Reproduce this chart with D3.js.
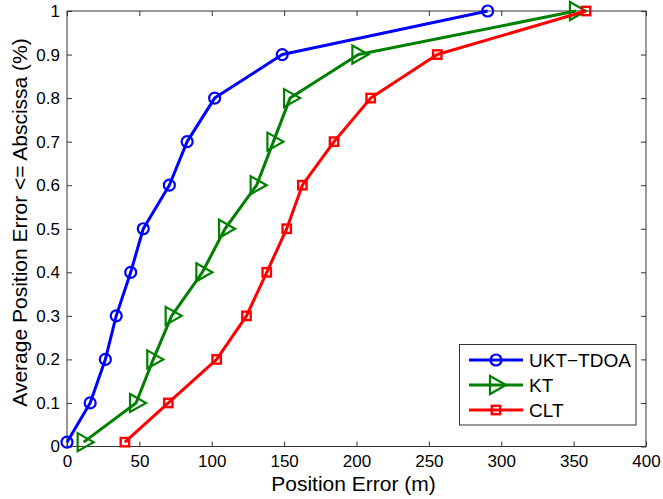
<!DOCTYPE html>
<html><head><meta charset="utf-8">
<script src="https://cdn.jsdelivr.net/npm/d3@7"></script>
<style>body{margin:0;background:#fff}text{font-family:"Liberation Sans",Arial,Helvetica,sans-serif}</style>
</head><body>
<svg id="c" width="663" height="499"></svg>
<script>
const yLevels = [0.01,0.1,0.2,0.3,0.4,0.5,0.6,0.7,0.8,0.9,1.0];
const ukt = [0,16,26.5,34,44,52.7,70.7,83,102,148.7,290.6];
const kt  = [11.5,47.7,59.6,72.3,93.5,109.2,131,142.6,154.1,201.3,351.6];
const clt = [40,70,103.4,124,138,151.8,162.6,184.5,209.8,255.8,358.6];
const xTicks = [0,50,100,150,200,250,300,350,400];
const yTicks = [0,0.1,0.2,0.3,0.4,0.5,0.6,0.7,0.8,0.9,1];
const seriesNames = ["UKT\u2212TDOA","KT","CLT"];
const seriesColors = ["#0000ff","#008000","#ff0000"];
const seriesMarkers = ["circle","triangle","square"];

const svg = d3.select("#c");
const L=67,R=646,T=11,B=446.5;
const x = d3.scaleLinear().domain([0,400]).range([L,R]);
const y = d3.scaleLinear().domain([0,1]).range([B,T]);
const axisColor="#333";

const g = svg.append("g");
g.append("rect").attr("x",L).attr("y",T).attr("width",R-L).attr("height",B-T)
 .attr("fill","none").attr("stroke",axisColor).attr("stroke-width",1);

function styleAxis(sel){
  sel.select(".domain").remove();
  sel.selectAll(".tick line").attr("stroke",axisColor);
  sel.selectAll(".tick text").attr("fill","#000").style("font-size","17px");
}
g.append("g").attr("transform",`translate(0,${B})`)
 .call(d3.axisBottom(x).tickValues(xTicks).tickSizeInner(-5).tickSizeOuter(0).tickPadding(8).tickFormat(d3.format("d")))
 .call(styleAxis);
g.append("g").attr("transform",`translate(0,${T})`)
 .call(d3.axisTop(x).tickValues(xTicks).tickSizeInner(-5).tickSizeOuter(0).tickFormat(""))
 .call(styleAxis);
g.append("g").attr("transform",`translate(${L},0)`)
 .call(d3.axisLeft(y).tickValues(yTicks).tickSizeInner(-5).tickSizeOuter(0).tickPadding(7).tickFormat(d=>d===0?"0":d===1?"1":d3.format(".1f")(d)))
 .call(styleAxis);
g.append("g").attr("transform",`translate(${R},0)`)
 .call(d3.axisRight(y).tickValues(yTicks).tickSizeInner(-5).tickSizeOuter(0).tickFormat(""))
 .call(styleAxis);

svg.append("text").attr("x",353.5).attr("y",491).attr("text-anchor","middle")
 .style("font-size","21px").text("Position Error (m)");
svg.append("text").attr("transform",`translate(27,222.5) rotate(-90)`).attr("text-anchor","middle")
 .style("font-size","21px").text("Average Position Error <= Abscissa (%)");

function drawMarker(sel, type, color){
  if(type==="circle"){
    sel.append("circle").attr("r",5.5).attr("fill","none").attr("stroke",color).attr("stroke-width",2.2);
  } else if(type==="triangle"){
    sel.append("path").attr("d","M-6,-9 L10,0 L-6,9 Z").attr("fill","none").attr("stroke",color).attr("stroke-width",2.2).attr("stroke-linejoin","miter");
  } else {
    sel.append("rect").attr("x",-4.2).attr("y",-4.2).attr("width",8.4).attr("height",8.4).attr("fill","none").attr("stroke",color).attr("stroke-width",2.4);
  }
}

const allSeries=[ukt,kt,clt];
const line = d3.line().x(d=>x(d[0])).y(d=>y(d[1]));
allSeries.forEach((vals,i)=>{
  const pts = vals.map((v,j)=>[v,yLevels[j]]);
  g.append("path").datum(pts).attr("d",line).attr("fill","none")
   .attr("stroke",seriesColors[i]).attr("stroke-width",3).attr("stroke-linejoin","round");
  pts.forEach(p=>{
    const m=g.append("g").attr("transform",`translate(${x(p[0])},${y(p[1])})`);
    drawMarker(m,seriesMarkers[i],seriesColors[i]);
  });
});

const lg = svg.append("g");
lg.append("rect").attr("x",459.5).attr("y",344.5).attr("width",176.5).attr("height",80.5)
  .attr("fill","#fff").attr("stroke",axisColor).attr("stroke-width",1);
seriesNames.forEach((n,i)=>{
  const yy = 360 + i*25;
  lg.append("line").attr("x1",469).attr("x2",523).attr("y1",yy).attr("y2",yy)
    .attr("stroke",seriesColors[i]).attr("stroke-width",3);
  const m = lg.append("g").attr("transform",`translate(496,${yy})`);
  drawMarker(m,seriesMarkers[i],seriesColors[i]);
  lg.append("text").attr("x",529).attr("y",yy+6.8).style("font-size","19px").text(n);
});
</script>
</body></html>
